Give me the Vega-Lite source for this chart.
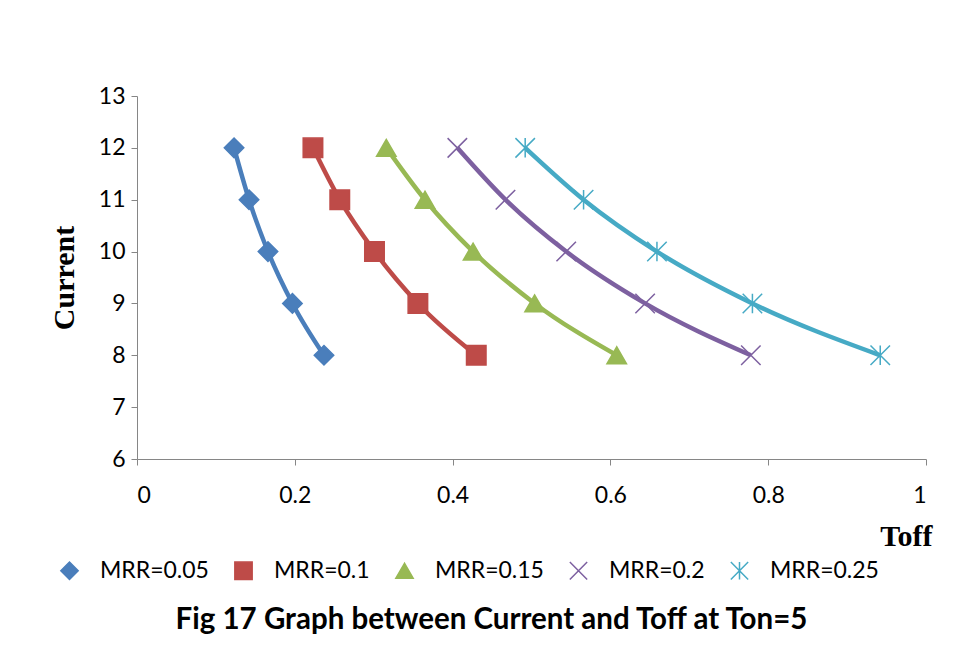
{
  "$schema": "https://vega.github.io/schema/vega-lite/v6.json",
  "width": 789,
  "height": 363,
  "autosize": {"type": "none"},
  "padding": {"left": 137, "top": 96, "right": 27, "bottom": 191},
  "background": "white",
  "data": {
    "values": [
      {"mrr": 0.05, "toff": 0.123, "current": 12},
      {"mrr": 0.05, "toff": 0.142, "current": 11},
      {"mrr": 0.05, "toff": 0.166, "current": 10},
      {"mrr": 0.05, "toff": 0.197, "current": 9},
      {"mrr": 0.05, "toff": 0.237, "current": 8},
      {"mrr": 0.1, "toff": 0.223, "current": 12},
      {"mrr": 0.1, "toff": 0.257, "current": 11},
      {"mrr": 0.1, "toff": 0.301, "current": 10},
      {"mrr": 0.1, "toff": 0.356, "current": 9},
      {"mrr": 0.1, "toff": 0.430, "current": 8},
      {"mrr": 0.15, "toff": 0.316, "current": 12},
      {"mrr": 0.15, "toff": 0.365, "current": 11},
      {"mrr": 0.15, "toff": 0.426, "current": 10},
      {"mrr": 0.15, "toff": 0.504, "current": 9},
      {"mrr": 0.15, "toff": 0.608, "current": 8},
      {"mrr": 0.2, "toff": 0.406, "current": 12},
      {"mrr": 0.2, "toff": 0.467, "current": 11},
      {"mrr": 0.2, "toff": 0.544, "current": 10},
      {"mrr": 0.2, "toff": 0.644, "current": 9},
      {"mrr": 0.2, "toff": 0.778, "current": 8},
      {"mrr": 0.25, "toff": 0.492, "current": 12},
      {"mrr": 0.25, "toff": 0.566, "current": 11},
      {"mrr": 0.25, "toff": 0.659, "current": 10},
      {"mrr": 0.25, "toff": 0.780, "current": 9},
      {"mrr": 0.25, "toff": 0.942, "current": 8}
    ]
  },
  "title": {
    "text": "Fig 17  Graph between Current and Toff at Ton=5",
    "orient": "bottom",
    "font": "Lato",
    "fontSize": 29.5,
    "fontWeight": "bold",
    "color": "black",
    "offset": 23,
    "dx": -40
  },
  "encoding": {
    "x": {
      "field": "toff",
      "type": "quantitative",
      "scale": {"domain": [0, 1], "nice": false, "zero": false},
      "axis": {
        "values": [0, 0.2, 0.4, 0.6, 0.8, 1],
        "format": "~g",
        "title": "Toff",
        "titleFont": "Liberation Serif",
        "titleFontSize": 30,
        "titleFontWeight": "bold",
        "titleColor": "black",
        "titleAlign": "right",
        "titleBaseline": "alphabetic",
        "titleX": 795,
        "titleY": 86,
        "grid": false,
        "domainColor": "#868686",
        "tickColor": "#868686",
        "tickSize": 6,
        "labelFont": "Lato",
        "labelFontSize": 23,
        "labelColor": "black",
        "labelPadding": 19
      }
    },
    "y": {
      "field": "current",
      "type": "quantitative",
      "scale": {"domain": [6, 13], "nice": false, "zero": false},
      "axis": {
        "values": [6, 7, 8, 9, 10, 11, 12, 13],
        "title": "Current",
        "titleFont": "Liberation Serif",
        "titleFontSize": 30,
        "titleFontWeight": "bold",
        "titleColor": "black",
        "titleBaseline": "alphabetic",
        "titleX": -64,
        "grid": false,
        "domainColor": "#868686",
        "tickColor": "#868686",
        "tickSize": 6,
        "labelFont": "Lato",
        "labelFontSize": 23,
        "labelColor": "black",
        "labelPadding": 6
      }
    }
  },
  "layer": [
    {
      "mark": {"type": "line", "strokeWidth": 4.5, "interpolate": "monotone"},
      "encoding": {
        "color": {
          "field": "mrr",
          "type": "nominal",
          "title": null,
          "scale": {
            "range": ["#4A7EBB", "#BE4B48", "#98B954", "#7D60A0", "#46AAC5"]
          },
          "legend": null
        }
      }
    },
    {
      "mark": {"type": "point", "filled": true, "size": 380, "strokeWidth": 1.5, "opacity": 1},
      "encoding": {
        "shape": {
          "field": "mrr",
          "type": "nominal",
          "title": null,
          "scale": {
            "range": ["diamond", "square", "triangle-up", "M-1,-1L1,1M-1,1L1,-1", "M-1,-1L1,1M-1,1L1,-1M0,-1L0,1"]
          },
          "legend": {
            "orient": "none",
            "direction": "horizontal",
            "legendX": -99,
            "legendY": 463,
            "symbolSize": 300,
            "symbolStrokeWidth": 1.5,
            "symbolOffset": 20,
            "labelOffset": 19,
            "labelFont": "Lato",
            "labelFontSize": 23,
            "labelColor": "black",
            "labelExpr": "'MRR=' + datum.label",
            "columnPadding": 3
          }
        },
        "fill": {
          "field": "mrr",
          "type": "nominal",
          "title": null,
          "scale": {
            "range": ["#4A7EBB", "#BE4B48", "#98B954", "#7D60A0", "#46AAC5"]
          },
          "legend": {
            "orient": "none",
            "direction": "horizontal",
            "legendX": -99,
            "legendY": 463,
            "symbolSize": 300,
            "symbolStrokeWidth": 1.5,
            "symbolOffset": 20,
            "labelOffset": 19,
            "labelFont": "Lato",
            "labelFontSize": 23,
            "labelColor": "black",
            "labelExpr": "'MRR=' + datum.label",
            "columnPadding": 3
          }
        },
        "stroke": {
          "field": "mrr",
          "type": "nominal",
          "title": null,
          "scale": {
            "range": ["#4A7EBB", "#BE4B48", "#98B954", "#7D60A0", "#46AAC5"]
          },
          "legend": {
            "orient": "none",
            "direction": "horizontal",
            "legendX": -99,
            "legendY": 463,
            "symbolSize": 300,
            "symbolStrokeWidth": 1.5,
            "symbolOffset": 20,
            "labelOffset": 19,
            "labelFont": "Lato",
            "labelFontSize": 23,
            "labelColor": "black",
            "labelExpr": "'MRR=' + datum.label",
            "columnPadding": 3
          }
        }
      }
    }
  ],
  "config": {
    "view": {"stroke": null}
  }
}
